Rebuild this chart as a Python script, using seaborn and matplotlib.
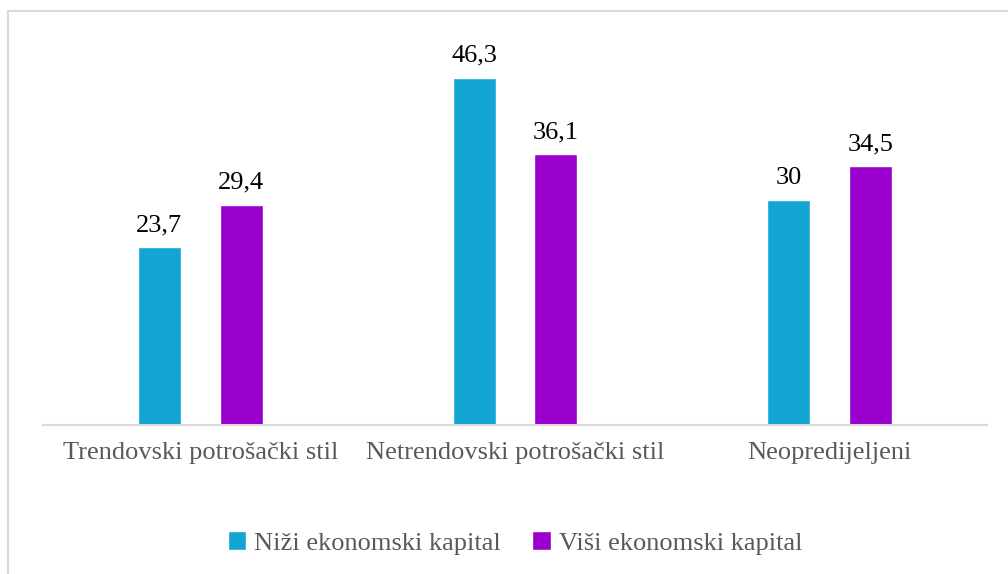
import pandas as pd
import seaborn as sns
import matplotlib.pyplot as plt
from matplotlib.patches import Rectangle

categories = ["Trendovski potrošački stil", "Netrendovski potrošački stil", "Neopredijeljeni"]
series = ["Niži ekonomski kapital", "Viši ekonomski kapital"]
nizi = [23.7, 46.3, 30]
visi = [29.4, 36.1, 34.5]
value_labels = [["23,7", "46,3", "30"], ["29,4", "36,1", "34,5"]]
colors = ["#12A5D4", "#9900CC"]

df = pd.DataFrame({
    "Kategorija": categories * 2,
    "Grupa": [series[0]] * 3 + [series[1]] * 3,
    "Vrijednost": nizi + visi,
})

sns.set_style("white")
plt.rcParams["font.family"] = ["Liberation Serif", "DejaVu Serif"]

fig = plt.figure(figsize=(10.08, 5.74), dpi=100)
ax = fig.add_axes([43 / 1008, 1 - 425 / 574, 944 / 1008, 375 / 574])

sns.barplot(data=df, x="Kategorija", y="Vrijednost", hue="Grupa",
            palette=colors, saturation=1, width=0.52, gap=0.476, ax=ax, legend=True)

for cont, labels in zip(ax.containers, value_labels):
    ax.bar_label(cont, labels=labels, padding=8, fontsize=19, color="black")

ax.set_ylim(0, 50)
ax.set_xlim(-0.5, 2.5)
ax.set_xlabel("")
ax.set_ylabel("")
ax.set_yticks([])
for s in ["top", "right", "left"]:
    ax.spines[s].set_visible(False)
ax.spines["bottom"].set_color("#D9D9D9")
ax.spines["bottom"].set_linewidth(1.5)
ax.tick_params(axis="x", length=0, pad=12, labelsize=19, labelcolor="#595959")

leg = ax.legend(loc="center", bbox_to_anchor=(0.5, (425 - 543) / 375), ncol=2,
                frameon=False, fontsize=19, labelcolor="#595959",
                handlelength=0.7, handleheight=0.7, handletextpad=0.3, columnspacing=1.2)

fig.patches.append(Rectangle((8 / 1008, -0.01), 1.1, 1 - 11 / 574 + 0.01,
                             transform=fig.transFigure, fill=False,
                             edgecolor="#D9D9D9", linewidth=1.5))

fig.savefig("out.png", dpi=100, facecolor="white")
